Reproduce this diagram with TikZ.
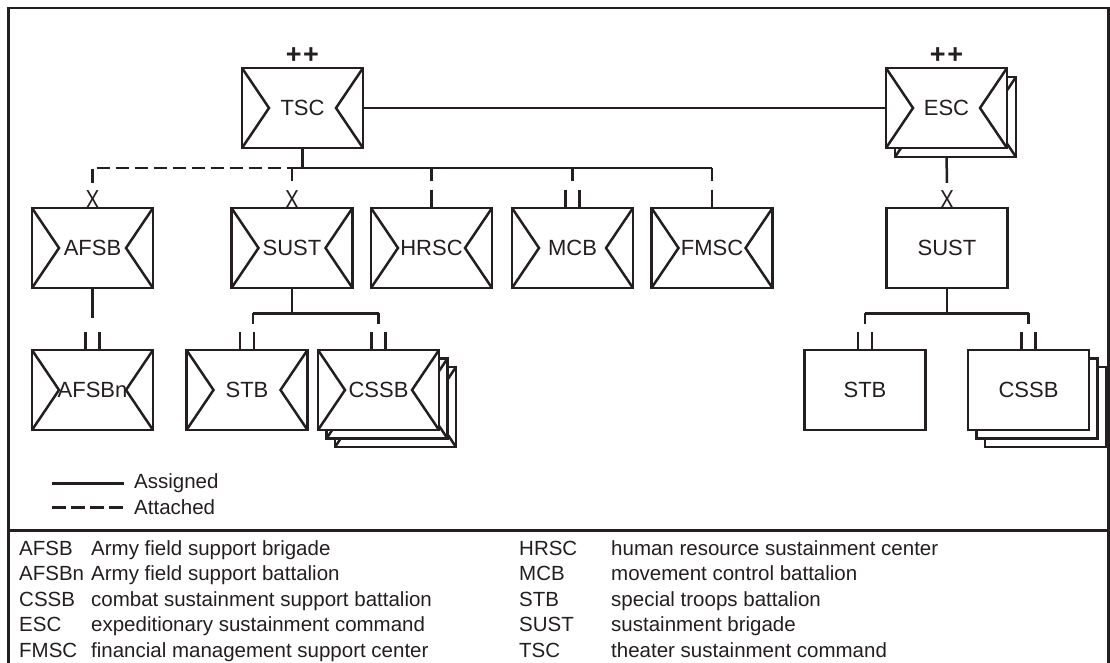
\documentclass[tikz,border=0pt]{standalone}
\usepackage{fontspec}
\setmainfont{Liberation Sans}
\usetikzlibrary{calc}
\definecolor{ink}{HTML}{231F20}
\pgfdeclarelayer{bg}
\pgfsetlayers{bg,main}
\newcommand\boxfont{\fontsize{22}{26}\selectfont}
\newcommand\keyfont{\fontsize{20.5}{24}\selectfont}
\newcommand\echfont{\fontsize{27}{27}\selectfont}
\newcommand\brigfont{\fontsize{26}{26}\selectfont}

\tikzset{
  link/.style={draw=ink, line width=2.5pt},
  attach/.style={link, dash pattern=on 13.5pt off 5.5pt},
  plainbox/.style={rectangle, draw=ink, line width=2.5pt, fill=white,
    minimum width=121pt, minimum height=80pt, inner sep=0pt,
    font=\boxfont, text=ink},
  envbox/.style={plainbox, path picture={
    \draw[ink, line width=2.5pt]
      (path picture bounding box.north west)
        -- ($(path picture bounding box.west)+(27pt,0)$)
        -- (path picture bounding box.south west)
      (path picture bounding box.north east)
        -- ($(path picture bounding box.east)+(-27pt,0)$)
        -- (path picture bounding box.south east);}},
  cmdmark/.style={font=\echfont\bfseries, text=ink, inner sep=0pt},
  brigmark/.style={font=\brigfont, text=ink, inner sep=0pt, anchor=base},
  onetick/.style={anchor=south, minimum width=22pt, minimum height=17pt,
    inner sep=0pt, path picture={
    \draw[ink, line width=2.5pt] (path picture bounding box.north)
      -- (path picture bounding box.south);}},
  twotick/.style={anchor=south, minimum width=22pt, minimum height=17pt,
    inner sep=0pt, path picture={
    \draw[ink, line width=2.5pt]
      ($(path picture bounding box.north)+(-7pt,0)$)
        -- ($(path picture bounding box.south)+(-7pt,0)$)
      ($(path picture bounding box.north)+(7pt,0)$)
        -- ($(path picture bounding box.south)+(7pt,0)$);}},
  keytext/.style={font=\keyfont, text=ink, inner sep=0pt, anchor=base west},
}

\begin{document}
\begin{tikzpicture}[x=1pt, y=-1pt]
\useasboundingbox (0,0) rectangle (1110,663);

% outer frame (open at the foot, where the page ends) and the rule above the abbreviations
\draw[ink, line width=2.8pt] (8.7,664) -- (8.7,8) -- (1108.5,8) -- (1108.5,664);
\draw[ink, line width=2.5pt] (8.7,530.5) -- (1108.5,530.5);

% ---------------- top level ----------------
\node[envbox] (tsc) at (302.5,108) {TSC};
\node[cmdmark] (tscE) at (302.5,56) {+\hspace{1.5pt}+};

\node[envbox] (escB) at (955.5,117) {};
\node[envbox] (esc) at (946.5,108) {ESC};
\node[cmdmark] (escE) at (946.5,56) {+\hspace{1.5pt}+};

% ---------------- second level ----------------
\node[envbox] (afsb) at (92.5,248) {AFSB};
\node[envbox] (sust) at (292,248) {SUST};
\node[envbox] (hrsc) at (431.5,248) {HRSC};
\node[envbox] (mcb)  at (572.5,248) {MCB};
\node[envbox] (fmsc) at (712,248) {FMSC};
\node[plainbox] (sustR) at (947,248) {SUST};

\node[brigmark] (afsbX) at (92.5,208) {\scalebox{0.8}[1]{X}};
\node[brigmark] (sustX) at (292,208) {\scalebox{0.8}[1]{X}};
\node[brigmark] (sustRX) at (947,208) {\scalebox{0.8}[1]{X}};
\node[onetick] (hrscE) at (hrsc.north) {};
\node[twotick] (mcbE) at (mcb.north) {};
\node[onetick] (fmscE) at (fmsc.north) {};

% ---------------- third level ----------------
\node[envbox] (afsbn) at (92.5,390) {AFSBn};
\node[envbox] (stb) at (247,390) {STB};
\node[envbox] (cssbC) at (395.5,407) {};
\node[envbox] (cssbB) at (387,398.5) {};
\node[envbox] (cssb) at (378.5,390) {CSSB};

\node[plainbox] (stbR) at (865,390) {STB};
\node[plainbox] (cssbRC) at (1045.5,407) {};
\node[plainbox] (cssbRB) at (1037,398.5) {};
\node[plainbox] (cssbR) at (1028.5,390) {CSSB};

\node[twotick] (afsbnE) at (afsbn.north) {};
\node[twotick] (stbE) at (stb.north) {};
\node[twotick] (cssbE) at (cssb.north) {};
\node[twotick] (stbRE) at (stbR.north) {};
\node[twotick] (cssbRE) at (cssbR.north) {};

% ---------------- connectors ----------------
\coordinate (topbus) at (0,168);
\coordinate (lowbus) at (0,313.3);
\begin{pgfonlayer}{bg}
  \draw[link] (tsc.east) -- (esc.west);
  \draw[link] (tsc.south) -- (tsc.south |- topbus);
  \draw[link] (sust.north |- topbus) -- (fmsc.north |- topbus);
  \draw[attach, shorten <=7pt] (afsbX.north) -- (afsb.north |- topbus)
    -- (sust.north |- topbus);
  \draw[attach, shorten >=7pt] (sust.north |- topbus) -- (sustX.north);
  \draw[link, shorten >=8pt] (hrsc.north |- topbus) -- (hrscE.north);
  \draw[link, shorten >=8pt] (mcb.north |- topbus) -- (mcbE.north);
  \draw[link, shorten >=8pt] (fmsc.north |- topbus) -- (fmscE.north);
  \draw[link, shorten >=7pt] (esc.south) -- (sustRX.north);

  \draw[link, shorten >=13pt] (afsb.south) -- (afsbnE.north);

  \draw[link] (sust.south) -- (sust.south |- lowbus);
  \draw[link, shorten >=7pt] ([xshift=6pt]stbE.north |- lowbus)
    -- ([xshift=6pt]stbE.north) ;
  \draw[link] ([xshift=6pt]stbE.north |- lowbus) -- (cssbE.north |- lowbus);
  \draw[link, shorten >=7pt] (cssbE.north |- lowbus) -- (cssbE.north);

  \draw[link] (sustR.south) -- (sustR.south |- lowbus);
  \draw[link] (stbRE.north |- lowbus) -- (cssbRE.north |- lowbus);
  \draw[link, shorten >=7pt] (stbRE.north |- lowbus) -- (stbRE.north);
  \draw[link, shorten >=7pt] (cssbRE.north |- lowbus) -- (cssbRE.north);
\end{pgfonlayer}

% ---------------- legend ----------------
\coordinate (keyA1) at (52,483.5);
\coordinate (keyA2) at (124,483.5);
\coordinate (keyB1) at (52,507.5);
\coordinate (keyB2) at (124,507.5);
\draw[link] (keyA1) -- (keyA2);
\draw[attach] (keyB1) -- (keyB2);
\node[keytext, anchor=west] (keyA) at (134,483.5) {Assigned};
\node[keytext, anchor=west] (keyB) at (134,507.5) {Attached};

% ---------------- abbreviations ----------------
\foreach \ab/\txt/\yy in {AFSB/Army field support brigade/555,
    AFSBn/Army field support battalion/580.5,
    CSSB/combat sustainment support battalion/606,
    ESC/expeditionary sustainment command/631.5,
    FMSC/financial management support center/657} {
  \node[keytext] at (19,\yy) {\ab};
  \node[keytext] at (91,\yy) {\txt};
}
\foreach \ab/\txt/\yy in {HRSC/human resource sustainment center/555,
    MCB/movement control battalion/580.5,
    STB/special troops battalion/606,
    SUST/sustainment brigade/631.5,
    TSC/theater sustainment command/657} {
  \node[keytext] at (519,\yy) {\ab};
  \node[keytext] at (611,\yy) {\txt};
}
\end{tikzpicture}
\end{document}
